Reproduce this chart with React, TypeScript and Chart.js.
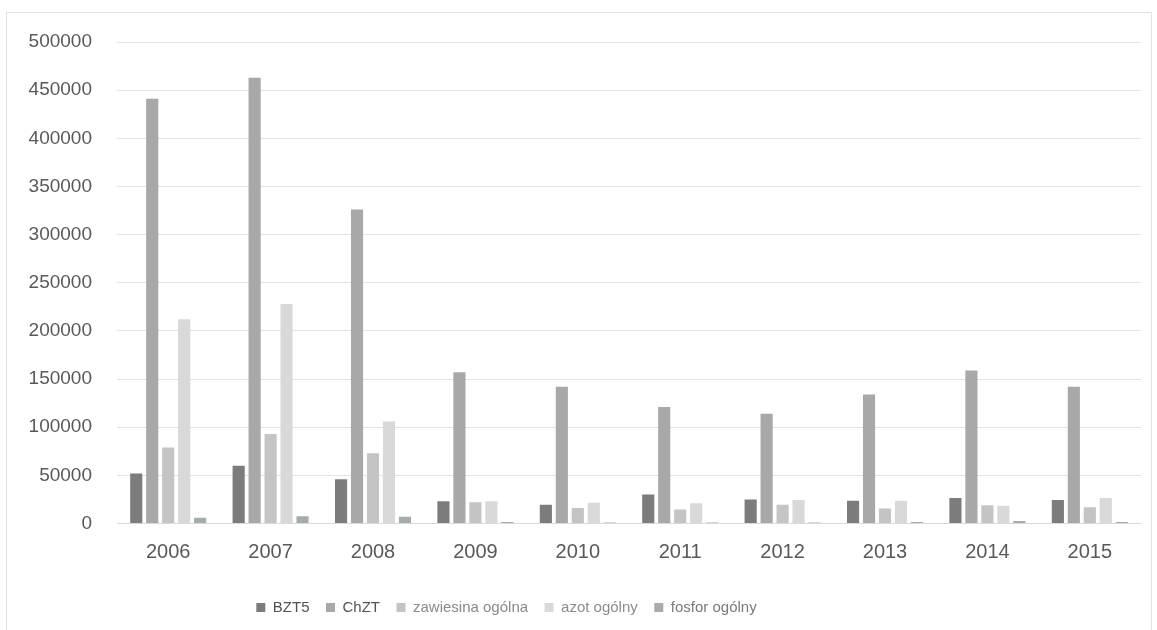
import React, { useEffect, useRef } from "react";
import { Chart, registerables } from "chart.js";

Chart.register(...registerables);

const years = ["2006", "2007", "2008", "2009", "2010", "2011", "2012", "2013", "2014", "2015"];
const bzt5 = [52000, 60000, 46000, 23000, 19500, 30000, 25000, 23500, 26500, 24500];
const chzt = [441000, 463000, 326000, 157000, 142000, 121000, 114000, 134000, 159000, 142000];
const zawiesina = [79000, 93000, 73000, 22000, 16000, 14500, 19500, 15500, 19000, 17000];
const azot = [212000, 228000, 106000, 23000, 21500, 21000, 24500, 23500, 18500, 26500];
const fosfor = [6000, 7500, 7000, 1500, 1000, 1000, 1000, 1500, 2500, 1500];

const seriesNames = ["BZT5", "ChZT", "zawiesina ogólna", "azot ogólny", "fosfor ogólny"];
const barColors = ["#7c7c7c", "#a8a8a8", "#c4c4c4", "#d9d9d9", "#a6abab"];
const legendTextColors = ["#505050", "#555555", "#8a8a8a", "#8c8c8c", "#7a7a7a"];

const FONT = "'Liberation Sans', Arial, sans-serif";

const legendShift = {
  id: "legendShift",
  afterLayout(chart: any) {
    const lg = chart.legend;
    if (lg) {
      lg.left -= 64;
      lg.right -= 64;
    }
  },
};

export default function App() {
  const ref = useRef<HTMLCanvasElement | null>(null);

  useEffect(() => {
    if (!ref.current) return;
    const values = [bzt5, chzt, zawiesina, azot, fosfor];
    const chart = new Chart(ref.current, {
      type: "bar",
      data: {
        labels: years,
        datasets: seriesNames.map((name, i) => ({
          label: name,
          data: values[i],
          backgroundColor: barColors[i],
          borderWidth: 0,
          categoryPercentage: 0.78,
          barPercentage: 0.76,
        })),
      },
      options: {
        animation: false,
        responsive: false,
        maintainAspectRatio: false,
        layout: { padding: { left: 0, right: 16, top: 42, bottom: 5 } },
        plugins: {
          tooltip: { enabled: false },
          legend: {
            position: "bottom",
            labels: {
              boxWidth: 9,
              boxHeight: 9,
              padding: 16.5,
              font: { family: FONT, size: 15 },
              color: "#595959",
              generateLabels: (c: any) => {
                const items = Chart.defaults.plugins.legend.labels.generateLabels(c);
                return items.map((it: any, i: number) => ({ ...it, fontColor: legendTextColors[i] }));
              },
            },
          },
        },
        scales: {
          x: {
            grid: { display: false, drawTicks: false },
            border: { display: true, color: "#d9d9d9" },
            ticks: {
              padding: 17,
              color: "#595959",
              font: { family: FONT, size: 20 },
            },
            afterFit: (s: any) => {
              s.height = 60;
            },
          },
          y: {
            min: 0,
            max: 500000,
            ticks: {
              stepSize: 50000,
              padding: 25,
              color: "#595959",
              font: { family: FONT, size: 19 },
              callback: (v: any) => String(v),
            },
            grid: { color: "#e3e3e3", drawTicks: false },
            border: { display: false },
            afterFit: (s: any) => {
              s.width = 117;
            },
          },
        },
      },
      plugins: [legendShift],
    });
    return () => chart.destroy();
  }, []);

  return (
    <div
      style={{
        position: "fixed",
        left: 0,
        top: 0,
        width: 1157,
        height: 630,
        background: "#ffffff",
        overflow: "hidden",
      }}
    >
      <div
        style={{
          position: "absolute",
          left: 6,
          top: 12,
          width: 1146,
          height: 620,
          border: "1px solid #e2e2e2",
          boxSizing: "border-box",
        }}
      />
      <canvas ref={ref} width={1157} height={630} style={{ position: "absolute", left: 0, top: 0 }} />
    </div>
  );
}
